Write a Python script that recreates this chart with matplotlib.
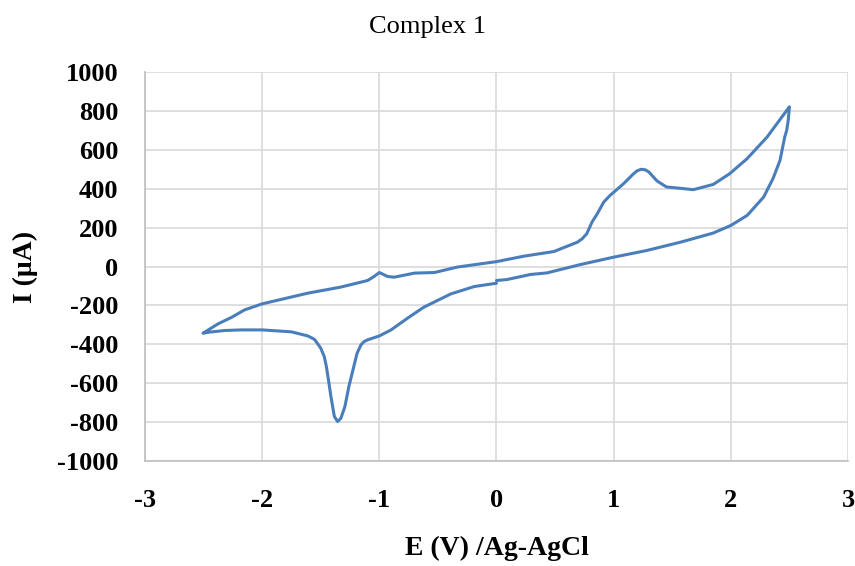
'''Cyclic voltammogram - Complex 1'''

import matplotlib
matplotlib.use("Agg")
import matplotlib.pyplot as plt

# potential (V) and current (uA), one closed scan
E_scan = [0.0, -0.19, -0.39, -0.62, -0.76, -0.90, -1.0, -1.10, -1.13, -1.157,
          -1.19, -1.26, -1.294, -1.328, -1.356, -1.384, -1.413, -1.43, -1.452,
          -1.47, -1.50, -1.53, -1.555, -1.61, -1.75, -2.0, -2.18, -2.32, -2.46,
          -2.505,
          -2.46, -2.377, -2.26, -2.15, -2.0, -1.61, -1.33, -1.10, -1.044, -1.0,
          -0.93, -0.874, -0.70, -0.53, -0.335, 0.0, 0.233, 0.49, 0.69, 0.73,
          0.77, 0.815, 0.86, 0.915, 0.97, 1.085, 1.17, 1.20, 1.236, 1.27, 1.30,
          1.37, 1.45, 1.57, 1.68, 1.85, 1.99, 2.14, 2.31, 2.5,
          2.49, 2.477, 2.46, 2.42, 2.36, 2.28, 2.14, 2.0, 1.85, 1.57, 1.28, 1.0,
          0.716, 0.43, 0.29, 0.09, 0.0]
I_scan = [-86, -103, -141, -209, -266, -326, -357, -377, -386, -403,
          -446, -617, -720, -780, -797, -771, -669, -600, -514,
          -463, -420, -394, -374, -357, -336, -326, -326, -329, -338,
          -343,
          -326, -295, -261, -223, -192, -137, -106, -72, -51, -31,
          -51, -55, -34, -31, -3, 25, 53, 77, 125, 142,
          168, 228, 271, 331, 366, 426, 477, 492, 500, 497, 486,
          440, 409, 402, 395, 422, 477, 555, 666, 821,
          752, 700, 666, 546, 452, 357, 263, 211, 172, 125, 82, 48,
          10, -33, -41, -67, -72]

x_ticks = [-3, -2, -1, 0, 1, 2, 3]
y_ticks = list(range(-1000, 1001, 200))

plt.rcParams['font.family'] = ['Liberation Serif', 'DejaVu Serif']
plt.rcParams['axes.unicode_minus'] = False

fig = plt.figure(figsize=(8.55, 5.66), dpi=100)
ax = fig.add_axes([0.1696, 0.1855, 0.8222, 0.6873])

ax.plot(E_scan, I_scan, color='#4a7ebb', linewidth=2.2,
        solid_joinstyle='round', solid_capstyle='round')

ax.set_xlim(-3, 3)
ax.set_ylim(-1000, 1000)
ax.set_xticks(x_ticks)
ax.set_yticks(y_ticks)
ax.grid(True, color='#d9d9d9', linewidth=1.2)
ax.set_axisbelow(True)
ax.tick_params(axis='x', length=0, labelsize=19, pad=20)
ax.tick_params(axis='y', length=0, labelsize=19, pad=19)
for lab in ax.get_xticklabels() + ax.get_yticklabels():
    lab.set_fontweight('bold')
for s in ['top', 'right']:
    ax.spines[s].set_visible(False)
for s in ['left', 'bottom']:
    ax.spines[s].set_color('#bfbfbf')
    ax.spines[s].set_linewidth(1.2)

fig.text(0.5, 0.952, 'Complex 1', ha='center', va='center', fontsize=19)
ax.set_xlabel('E (V) /Ag-AgCl', fontsize=20, fontweight='bold', labelpad=17)
ax.set_ylabel('I (μA)', fontsize=20, fontweight='bold', labelpad=14)

fig.savefig('out.png', dpi=100)
